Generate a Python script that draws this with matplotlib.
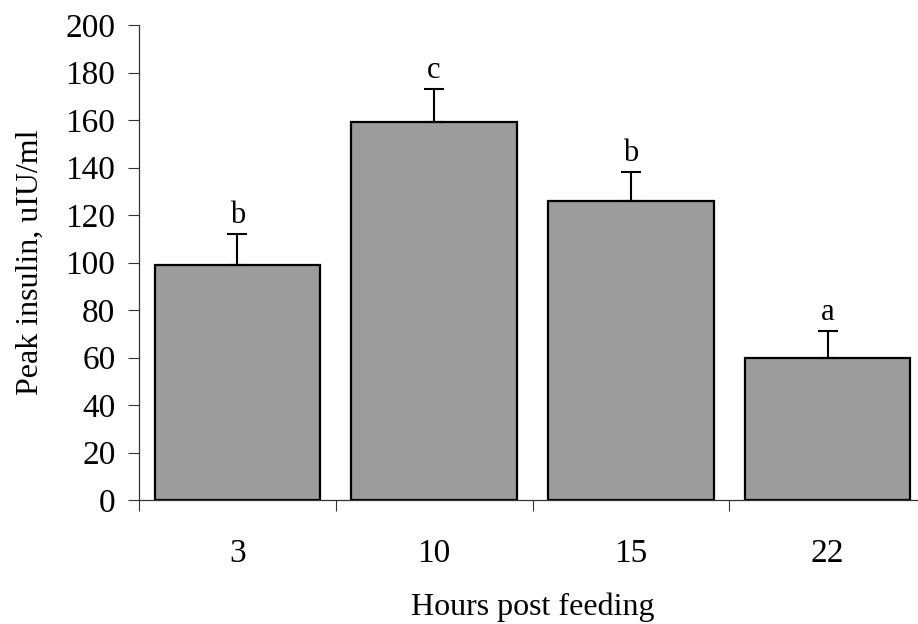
import numpy as np
import matplotlib
matplotlib.use('Agg')
import matplotlib.pyplot as plt
from matplotlib.ticker import FixedLocator, NullFormatter

# ============== chart data ==============
hours = ['3', '10', '15', '22']
peakInsulin = [99, 159, 126, 60]
stdErr = [13, 14, 12, 11]
groupLetters = ['b', 'c', 'b', 'a']
#=========================================

plt.rcParams['font.family'] = ['Liberation Serif', 'DejaVu Serif']

fig = plt.figure(figsize=(9.18, 6.24), dpi=100)
ax = fig.add_axes([139/918, 1-500/624, 787/918, 475/624])

x = np.arange(len(hours))
ax.bar(x, peakInsulin, width=0.84, color='#9c9c9c', edgecolor='black', linewidth=1.6, zorder=2)
ax.errorbar(x, peakInsulin, yerr=[np.zeros(len(stdErr)), stdErr], fmt='none',
            ecolor='black', elinewidth=1.5, capsize=7, capthick=1.5, zorder=3)

for xi, val, err, letter in zip(x, peakInsulin, stdErr, groupLetters):
    ax.annotate(letter, (xi, val + err), xytext=(0, 8), textcoords='offset points',
                ha='center', va='baseline', fontsize=22)

ax.set_xlim(-0.5, len(hours) - 0.5)
ax.set_ylim(0, 200)
ax.set_yticks(np.arange(0, 201, 20))

# category ticks sit between the bars, labels sit under the bars
ax.xaxis.set_major_locator(FixedLocator(np.arange(-0.5, len(hours), 1.0)))
ax.xaxis.set_major_formatter(NullFormatter())
ax.xaxis.set_minor_locator(FixedLocator(x))
ax.set_xticklabels(hours, minor=True)
ax.tick_params(axis='x', which='major', direction='out', length=8, width=0.8, color='#333333')
ax.tick_params(axis='x', which='minor', length=0, pad=28, labelsize=24)
ax.tick_params(axis='y', direction='out', length=8, width=0.8, pad=9, labelsize=24, color='#333333')

for side in ['top', 'right']:
    ax.spines[side].set_visible(False)
for side in ['left', 'bottom']:
    ax.spines[side].set_linewidth(0.9)
    ax.spines[side].set_color('#333333')

ax.set_xlabel('Hours post feeding', fontsize=23)
ax.xaxis.set_label_coords(0.5, -0.195)
ax.set_ylabel('Peak insulin, uIU/ml', fontsize=23)
ax.yaxis.set_label_coords(-0.12, 0.5)

fig.savefig('out.png', dpi=100)
